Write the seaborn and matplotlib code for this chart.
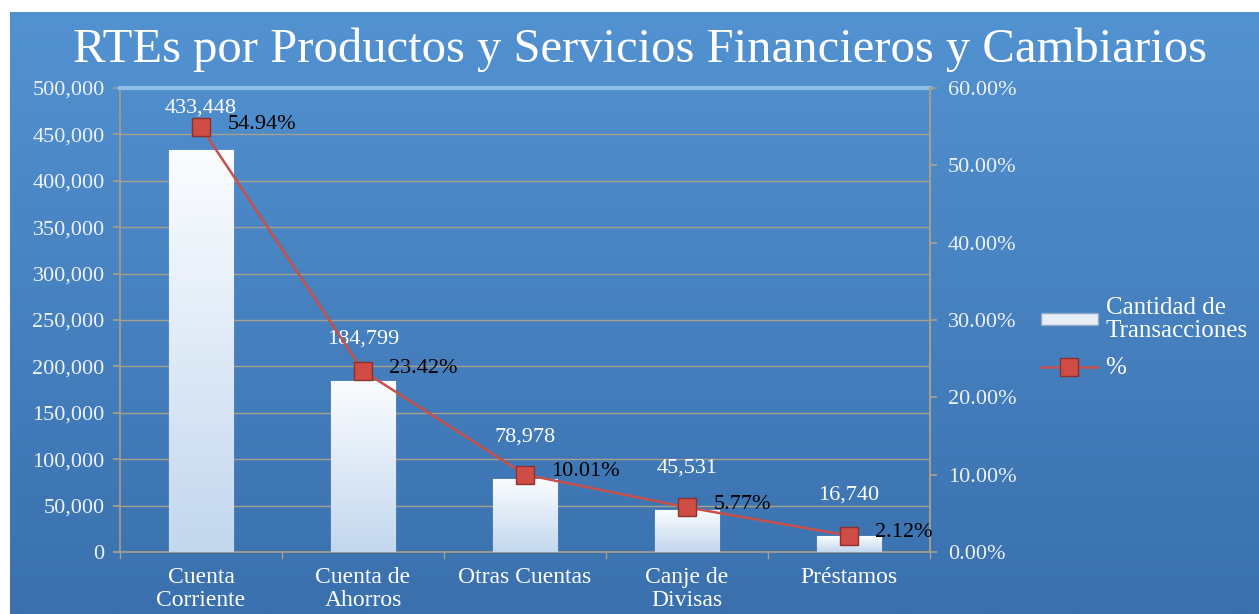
import numpy as np
import pandas as pd
import matplotlib
matplotlib.use("Agg")
import matplotlib.pyplot as plt
import seaborn as sns
from matplotlib.ticker import FuncFormatter, MultipleLocator, FixedLocator

# Datos del gráfico
categorias = ["Cuenta\nCorriente", "Cuenta de\nAhorros", "Otras Cuentas",
              "Canje de\nDivisas", "Préstamos"]
cantidades = [433448, 184799, 78978, 45531, 16740]
porcentajes = [54.94, 23.42, 10.01, 5.77, 2.12]

sns.set_theme(style="white")
plt.rcParams["font.family"] = ["Liberation Serif", "DejaVu Serif"]

W, H = 1259, 614
fig = plt.figure(figsize=(W / 100, H / 100), dpi=100)
fig.patch.set_facecolor("white")

# Panel de fondo azul con degradado
bg = fig.add_axes([10 / W, 0, 1 - 10 / W, 1 - 12 / H])
grad = np.linspace(0, 1, 256).reshape(-1, 1)
cmap_bg = matplotlib.colors.LinearSegmentedColormap.from_list("bg", ["#5392d1", "#3a70ae"])
bg.imshow(grad, aspect="auto", cmap=cmap_bg, extent=[0, 1, 0, 1], origin="upper")
bg.set_axis_off()

# Eje principal (barras)
ax = fig.add_axes([120 / W, 1 - 552 / H, (930 - 120) / W, (552 - 88) / H])
ax.set_facecolor("none")
df = pd.DataFrame({"categoria": categorias, "cantidad": cantidades, "pct": porcentajes})
sns.barplot(data=df, x="categoria", y="cantidad", color="#e4eef8", edgecolor="#8ea6c8",
            linewidth=1.0, width=0.4, ax=ax, label="Cantidad de\nTransacciones", zorder=3)
if ax.get_legend() is not None:
    ax.get_legend().remove()

# Degradado dentro de cada barra
cmap_bar = matplotlib.colors.LinearSegmentedColormap.from_list("bar", ["#fbfdff", "#c3d7ee"])
for p in ax.patches:
    x0, y0 = p.get_x(), p.get_y()
    im = ax.imshow(grad, aspect="auto", cmap=cmap_bar, origin="upper",
                   extent=[x0, x0 + p.get_width(), y0, y0 + p.get_height()], zorder=3.5)
    im.set_clip_path(p)

ax.set_xlim(-0.5, 4.5)
ax.set_ylim(0, 500000)
ax.yaxis.set_major_locator(MultipleLocator(50000))
ax.yaxis.set_major_formatter(FuncFormatter(lambda v, _: f"{v:,.0f}"))
ax.grid(axis="y", color="#a89f8a", linewidth=1.0)
ax.set_axisbelow(True)
ax.set_xlabel("")
ax.set_ylabel("")
ax.tick_params(axis="y", colors="#a89f8a", labelcolor="#eef2f8", labelsize=16, length=5,
               direction="out", left=True, pad=6)
ax.tick_params(axis="x", which="major", length=0, labelcolor="white", labelsize=17, pad=11)
ax.xaxis.set_minor_locator(FixedLocator(np.arange(-0.5, 5, 1)))
ax.tick_params(axis="x", which="minor", length=5, color="#a89f8a", direction="out", bottom=True)
for lbl in ax.get_xticklabels():
    lbl.set_linespacing(1.1)
for s in ["left", "bottom"]:
    ax.spines[s].set_color("#a89f8a")
    ax.spines[s].set_linewidth(1.2)
ax.spines["top"].set_color("#8fc0ec")
ax.spines["top"].set_linewidth(3)
ax.spines["right"].set_color("#a89f8a")

# Etiquetas de cantidad encima de cada barra
for p, val in zip(ax.patches, cantidades):
    ax.annotate(f"{val:,}", (p.get_x() + p.get_width() / 2, p.get_height()),
                xytext=(0, 30), textcoords="offset points", ha="center", va="center",
                color="white", fontsize=16, zorder=6)

# Eje secundario (porcentaje)
ax2 = ax.twinx()
sns.lineplot(x=np.arange(len(porcentajes)), y=porcentajes, ax=ax2, color="#c8504b",
             linewidth=1.8, marker="s", markersize=13, markerfacecolor="#cf4d45",
             markeredgecolor="#8e302c", markeredgewidth=1, label="%", legend=False, zorder=5)
ax2.set_ylim(0, 60)
ax2.yaxis.set_major_locator(MultipleLocator(10))
ax2.yaxis.set_major_formatter(FuncFormatter(lambda v, _: f"{v:.2f}%"))
ax2.tick_params(axis="y", colors="#a89f8a", labelcolor="#eef2f8", labelsize=16, length=5,
                direction="out", right=True, pad=8)
ax2.set_ylabel("")
for s in ["left", "top", "bottom"]:
    ax2.spines[s].set_visible(False)
ax2.spines["right"].set_color("#a89f8a")
ax2.spines["right"].set_linewidth(1.2)

for i, v in enumerate(porcentajes):
    ax2.annotate(f"{v:.2f}%", (i, v), xytext=(19, 2), textcoords="offset points",
                 ha="left", va="center", color="black", fontsize=16, zorder=7)

# Título
fig.text(640 / W, 1 - 50 / H, "RTEs por Productos y Servicios Financieros y Cambiarios",
         ha="center", va="center", color="white", fontsize=35)

# Leyenda
h1, l1 = ax.get_legend_handles_labels()
h2, l2 = ax2.get_legend_handles_labels()
leg = fig.legend(h1 + h2, l1 + l2, loc="center left", bbox_to_anchor=(1018 / W, 1 - 338 / H),
                 frameon=False, fontsize=18, labelcolor="white", handlelength=2.3,
                 handleheight=0.4, labelspacing=0.6, handletextpad=0.3)
for t in leg.get_texts():
    t.set_linespacing(1.1)

fig.savefig("out.png", dpi=100)
